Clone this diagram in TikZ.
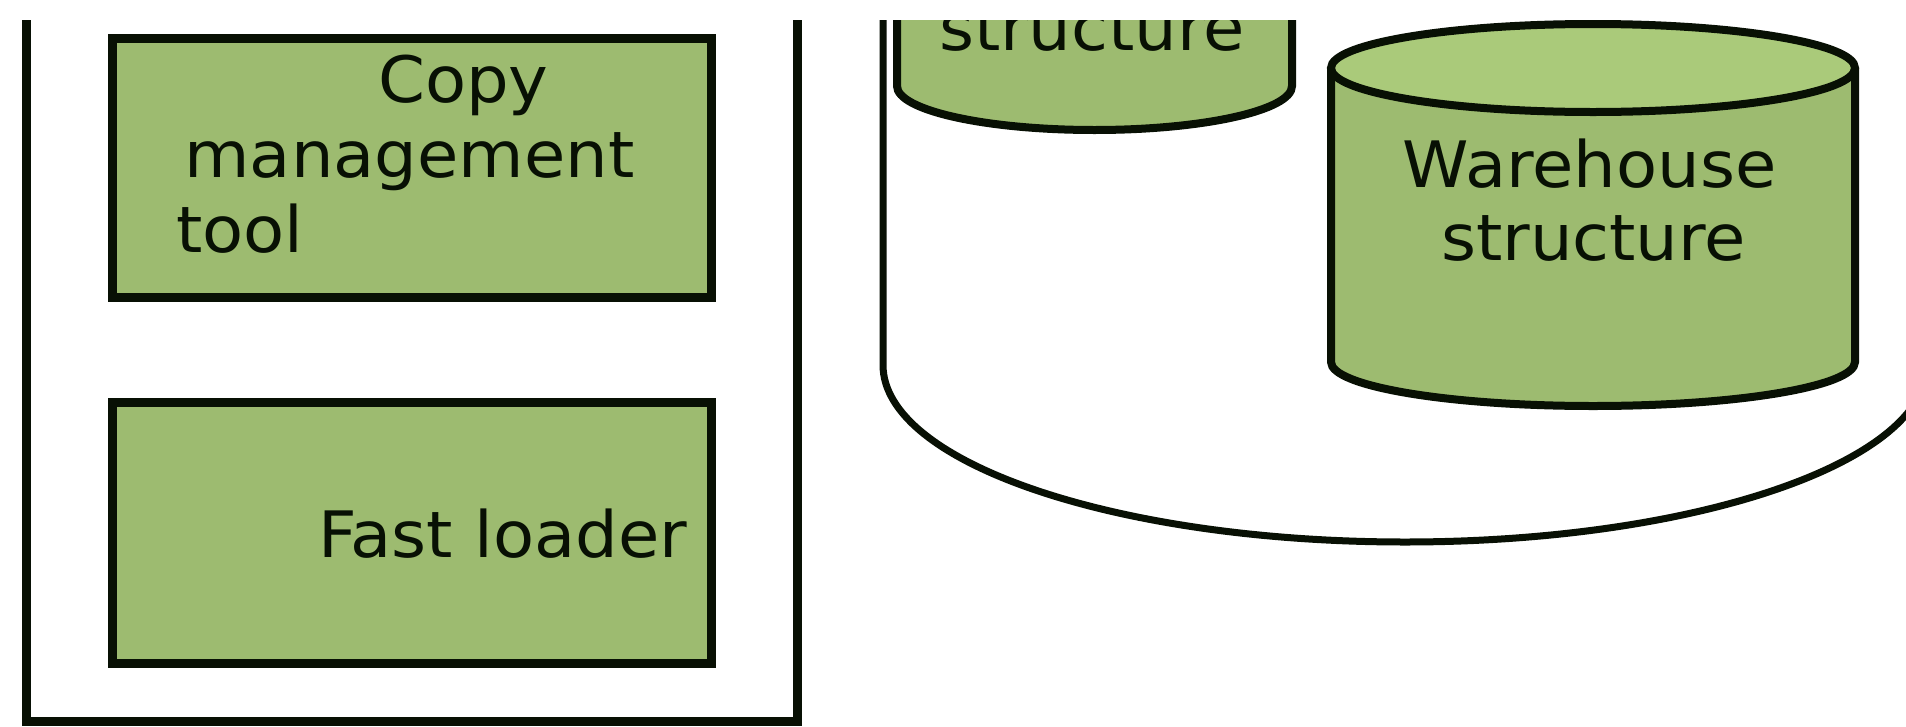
\documentclass[tikz,border=0pt]{standalone}
\usepackage{fontspec}
\newfontfamily\dv[FakeStretch=1.05]{DejaVu Sans}
\definecolor{gfill}{RGB}{157,187,112}
\definecolor{gtop}{RGB}{170,202,122}
\definecolor{ink}{RGB}{8,16,4}
\tikzset{
  lbl/.style={font=\dv\fontsize{64}{77}\selectfont, inner sep=0pt, anchor=base, text=ink},
  gbox/.style={draw=ink, line width=9pt, fill=gfill, inner sep=0pt, rectangle},
  framelines/.style={draw=ink, line width=9pt, line join=miter},
  cylline/.style={draw=ink, line width=8pt},
}
\begin{document}
\begin{tikzpicture}[x=1pt,y=1pt]
\useasboundingbox[fill=white] (0,0) rectangle (1906,-726);
\begin{scope}
\clip (0,-20) rectangle (1906,-726);
% left frame
\draw[framelines] (26,-10) -- (26,-721.5) -- (797.5,-721.5) -- (797.5,-10);
% boxes
\node[gbox, minimum width=599pt, minimum height=259pt] (copy) at (411.5,-167.5) {};
\node[gbox, minimum width=599pt, minimum height=261pt] (fast) at (411.5,-532.5) {};
\node[lbl] (t1) at (463.5,-102) {Copy};
\node[lbl] (t2) at (409.5,-177) {management};
\node[lbl] (t3) at (240,-252) {tool};
\node[lbl] (t4) at (502.5,-557) {Fast loader};
% big cylinder
\draw[draw=ink, line width=7pt, fill=white] (883,-10) -- (883,-365)
  arc[start angle=180, end angle=360, x radius=522, y radius=177] -- (1927,-10);
% small cylinder (top cut off)
\draw[cylline, fill=gfill] (897,-10) -- (897,-86)
  arc[start angle=180, end angle=360, x radius=197.5, y radius=44] -- (1292,-10) -- cycle;
\node[lbl] (t5) at (1092,-50) {structure};
% warehouse cylinder
\fill[gfill] (1331,-68) -- (1331,-362)
  arc[start angle=180, end angle=360, x radius=262, y radius=44] -- (1855,-68) -- cycle;
\draw[cylline] (1331,-68) -- (1331,-362)
  arc[start angle=180, end angle=360, x radius=262, y radius=44] -- (1855,-68);
\draw[cylline, fill=gtop] (1593,-68) ellipse[x radius=262, y radius=44];
\node[lbl] (t6) at (1589.5,-187) {Warehouse};
\node[lbl] (t7) at (1593.5,-260) {structure};
\end{scope}
\end{tikzpicture}
\end{document}
